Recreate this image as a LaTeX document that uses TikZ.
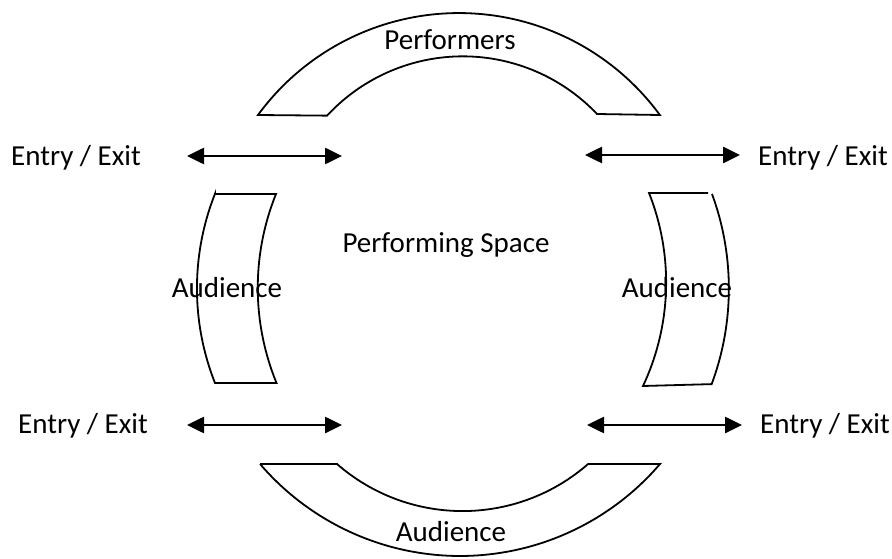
\documentclass[tikz,border=0pt]{standalone}
\usepackage{fontspec}
\setmainfont{Carlito}
\usepackage{tikz}
\usetikzlibrary{arrows.meta}

\begin{document}
\begin{tikzpicture}[x=1pt,y=-1pt,line width=1.8pt,
	every node/.style={inner sep=0pt,anchor=base,font=\fontsize{29}{34}\selectfont},
	door/.style={{Triangle[length=17pt,width=16pt]}-{Triangle[length=17pt,width=16pt]},line width=2.6pt}]
				\useasboundingbox (0,0) rectangle (892,559);
				
				% performers (top)
				\draw (258,115) arc[start angle=-143.8,end angle=-36.2,radius=249] -- (597,114)
					arc[start angle=-43.5,end angle=-137.2,radius=185] -- cycle;
				
				% audience (left)
				\draw (215,194) -- (276,194) arc[start angle=202,end angle=157.7,radius=250.6] -- (215,383)
					arc[start angle=158.4,end angle=201.6,radius=257] -- cycle;
				
				% audience (right)
				\draw (712,194) arc[start angle=-20.2,end angle=20.4,radius=274] -- (643,386)
					arc[start angle=25.2,end angle=-21.6,radius=243] -- (708,193);
				
				% audience (bottom)
				\draw (260,464) -- (337,464) arc[start angle=131.1,end angle=48.9,radius=191] -- (660,464)
					arc[start angle=40.6,end angle=139.4,radius=263.4] -- cycle;
				
				% entries / exits
				\foreach \x/\a/\b/\y in
				{TL/187/342/156, TR/585/740/155, BL/187/342/425, BR/587/742/425}{
					\coordinate(\x a) at (\a,\y);
					\coordinate(\x b) at (\b,\y);
					\draw[door] (\x a)--(\x b);
				}
				
				\node (perf) at (450,50){Performers};
				\node (space) at (446,252){Performing Space};
				\node (audL) at (227,297){Audience};
				\node (audR) at (677,297){Audience};
				\node (audB) at (451,541){Audience};
				
				\node (exitTL) at (76,166){Entry / Exit};
				\node (exitTR) at (823,166){Entry / Exit};
				\node (exitBL) at (83,433){Entry / Exit};
				\node (exitBR) at (825,433){Entry / Exit};
			\end{tikzpicture}
\end{document}
